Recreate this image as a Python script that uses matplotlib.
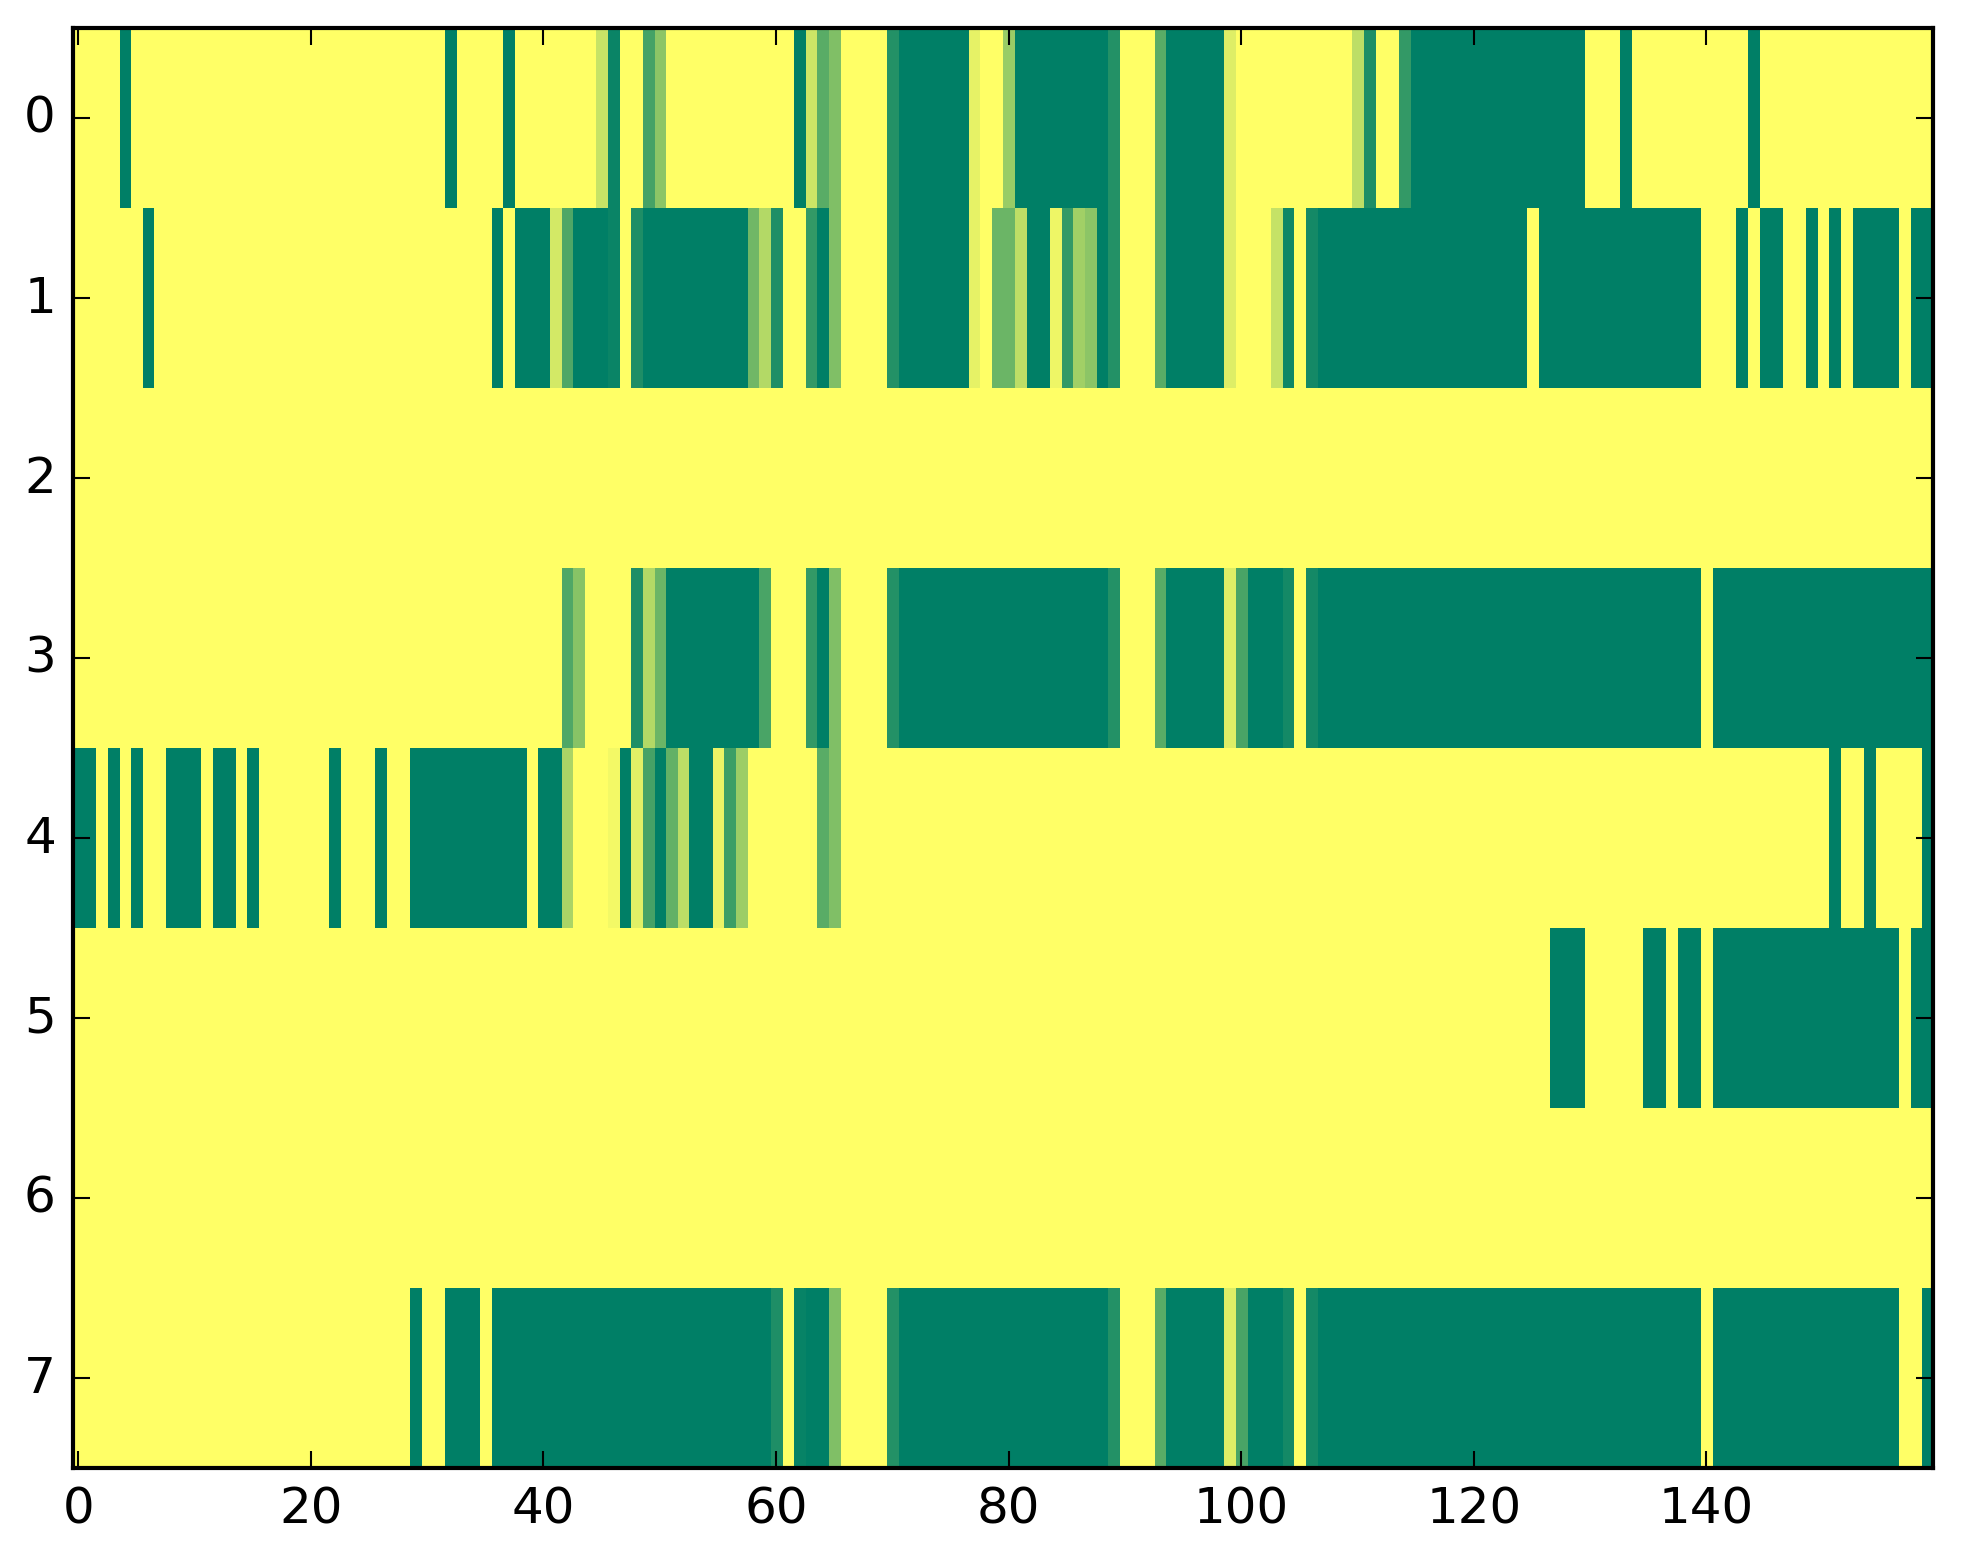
import numpy as np
import matplotlib
matplotlib.use("Agg")
import matplotlib.pyplot as plt

row0 = [1,1,1,1,0,1,1,1,1,1, 1,1,1,1,1,1,1,1,1,1,
        1,1,1,1,1,1,1,1,1,1, 1,1,0,1,1,1,1,0,1,1,
        1,1,1,1,1,.78,.04,1,1,.27, .55,1,1,1,1,1,1,1,1,1,
        1,1,0,.8,.35,.5,1,1,1,1, .14,0,0,0,0,0,0,.9,1,1,
        .6,0,0,0,0,0,0,0,0,.14, 1,1,1,.35,0,0,0,0,0,.87,
        1,1,1,1,1,1,1,1,1,1, .74,.12,1,1,.2,0,0,0,0,0,
        0,0,0,0,0,0,0,0,0,0, 1,1,1,0,1,1,1,1,1,1,
        1,1,1,1,0,1,1,1,1,1, 1,1,1,1,1,1,1,1,1,1]

row1 = [1,1,1,1,1,1,0,1,1,1, 1,1,1,1,1,1,1,1,1,1,
        1,1,1,1,1,1,1,1,1,1, 1,1,1,1,1,1,0,1,0,0,
        0,.83,.31,0,0,0,.04,1,.12,0, 0,0,0,0,0,0,0,0,.44,.7,
        .12,1,1,.2,0,.5,1,1,1,1, .14,0,0,0,0,0,0,.9,1,.42,
        .42,.74,0,0,.93,.2,.63,.55,0,.14, 1,1,1,.35,0,0,0,0,0,.87,
        1,1,1,.77,.06,1,.08,0,0,0, 0,0,0,0,0,0,0,0,0,0,
        0,0,0,0,0,1,0,0,0,0, 0,0,0,0,0,0,0,0,0,0,
        1,1,1,0,1,0,0,1,1,0, 1,0,1,0,0,0,0,1,0,0]

row2 = [1,1,1,1,1,1,1,1,1,1, 1,1,1,1,1,1,1,1,1,1,
        1,1,1,1,1,1,1,1,1,1, 1,1,1,1,1,1,1,1,1,1,
        1,1,1,1,1,1,1,1,1,1, 1,1,1,1,1,1,1,1,1,1,
        1,1,1,1,1,1,1,1,1,1, 1,1,1,1,1,1,1,1,1,1,
        1,1,1,1,1,1,1,1,1,1, 1,1,1,1,1,1,1,1,1,1,
        1,1,1,1,1,1,1,1,1,1, 1,1,1,1,1,1,1,1,1,1,
        1,1,1,1,1,1,1,1,1,1, 1,1,1,1,1,1,1,1,1,1,
        1,1,1,1,1,1,1,1,1,1, 1,1,1,1,1,1,1,1,1,1]

row3 = [1,1,1,1,1,1,1,1,1,1, 1,1,1,1,1,1,1,1,1,1,
        1,1,1,1,1,1,1,1,1,1, 1,1,1,1,1,1,1,1,1,1,
        1,1,.31,.53,1,1,1,1,.12,.7, .42,0,0,0,0,0,0,0,0,.29,
        1,1,1,.2,0,.5,1,1,1,1, .14,0,0,0,0,0,0,0,0,0,
        0,0,0,0,0,0,0,0,0,.14, 1,1,1,.35,0,0,0,0,0,.87,
        .29,0,0,0,.08,1,.08,0,0,0, 0,0,0,0,0,0,0,0,0,0,
        0,0,0,0,0,0,0,0,0,0, 0,0,0,0,0,0,0,0,0,0,
        1,0,0,0,0,0,0,0,0,0, 0,0,0,0,0,0,0,0,0,0]

row4 = [0,0,1,0,1,0,1,1,0,0, 0,1,0,0,1,0,1,1,1,1,
        1,1,0,1,1,1,0,1,1,0, 0,0,0,0,0,0,0,0,0,1,
        0,0,.67,1,1,1,.95,0,.88,.27, 0,.39,.74,0,0,.92,.24,.61,1,1,
        1,1,1,1,.35,.5,1,1,1,1, 1,1,1,1,1,1,1,1,1,1,
        1,1,1,1,1,1,1,1,1,1, 1,1,1,1,1,1,1,1,1,1,
        1,1,1,1,1,1,1,1,1,1, 1,1,1,1,1,1,1,1,1,1,
        1,1,1,1,1,1,1,1,1,1, 1,1,1,1,1,1,1,1,1,1,
        1,1,1,1,1,1,1,1,1,1, 1,0,1,1,0,1,1,1,1,0]

row5 = [1,1,1,1,1,1,1,1,1,1, 1,1,1,1,1,1,1,1,1,1,
        1,1,1,1,1,1,1,1,1,1, 1,1,1,1,1,1,1,1,1,1,
        1,1,1,1,1,1,1,1,1,1, 1,1,1,1,1,1,1,1,1,1,
        1,1,1,1,1,1,1,1,1,1, 1,1,1,1,1,1,1,1,1,1,
        1,1,1,1,1,1,1,1,1,1, 1,1,1,1,1,1,1,1,1,1,
        1,1,1,1,1,1,1,1,1,1, 1,1,1,1,1,1,1,1,1,1,
        1,1,1,1,1,1,1,0,0,0, 1,1,1,1,1,0,0,1,0,0,
        1,0,0,0,0,0,0,0,0,0, 0,0,0,0,0,0,0,1,0,0]

row6 = [1,1,1,1,1,1,1,1,1,1, 1,1,1,1,1,1,1,1,1,1,
        1,1,1,1,1,1,1,1,1,1, 1,1,1,1,1,1,1,1,1,1,
        1,1,1,1,1,1,1,1,1,1, 1,1,1,1,1,1,1,1,1,1,
        1,1,1,1,1,1,1,1,1,1, 1,1,1,1,1,1,1,1,1,1,
        1,1,1,1,1,1,1,1,1,1, 1,1,1,1,1,1,1,1,1,1,
        1,1,1,1,1,1,1,1,1,1, 1,1,1,1,1,1,1,1,1,1,
        1,1,1,1,1,1,1,1,1,1, 1,1,1,1,1,1,1,1,1,1,
        1,1,1,1,1,1,1,1,1,1, 1,1,1,1,1,1,1,1,1,1]

row7 = [1,1,1,1,1,1,1,1,1,1, 1,1,1,1,1,1,1,1,1,1,
        1,1,1,1,1,1,1,1,1,0, 1,1,0,0,0,1,0,0,0,0,
        0,0,0,0,0,0,0,0,0,0, 0,0,0,0,0,0,0,0,0,0,
        .12,1,.03,0,0,.5,1,1,1,1, .14,0,0,0,0,0,0,0,0,0,
        0,0,0,0,0,0,0,0,0,.14, 1,1,1,.35,0,0,0,0,0,.87,
        .29,0,0,0,.08,1,.08,0,0,0, 0,0,0,0,0,0,0,0,0,0,
        0,0,0,0,0,0,0,0,0,0, 0,0,0,0,0,0,0,0,0,0,
        1,0,0,0,0,0,0,0,0,0, 0,0,0,0,0,0,0,1,1,0]

xticks = [0, 20, 40, 60, 80, 100, 120, 140]
yticks = [0, 1, 2, 3, 4, 5, 6, 7]

data = np.array([row0, row1, row2, row3, row4, row5, row6, row7], dtype=float)

plt.style.use('classic')
DPI = 300
W, H = 1963, 1564
fig = plt.figure(figsize=(W / DPI, H / DPI), dpi=DPI)
fig.patch.set_facecolor('white')
ax = fig.add_axes([72.5 / W, 1 - 1468.7 / H, (1933 - 72.5) / W, (1468.7 - 29) / H])
ax.imshow(data, cmap='summer', vmin=0, vmax=1, aspect='auto',
          interpolation='nearest')
ax.set_xticks(xticks)
ax.set_yticks(yticks)
ax.set_xlim(-0.5, data.shape[1] - 0.5)
ax.set_ylim(data.shape[0] - 0.5, -0.5)
fig.savefig('out.png', dpi=DPI, facecolor='white')
